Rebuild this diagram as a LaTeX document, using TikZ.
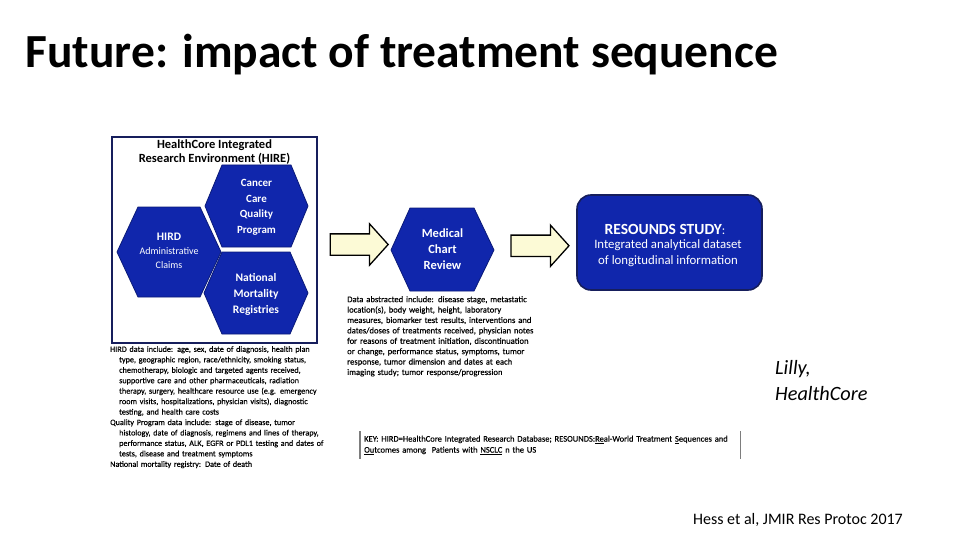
\documentclass[tikz,border=0pt]{standalone}
\usepackage{fontspec}
\setmainfont{Carlito}
\newfontfamily\notefont{Carlito}[FakeBold=0.4]
\usepackage{xcolor}
\usetikzlibrary{shapes.arrows,calc}

\definecolor{hexblue}{RGB}{16,38,172}
\definecolor{hexedge}{RGB}{10,26,120}
\definecolor{navy}{RGB}{22,30,92}
\definecolor{cream}{RGB}{252,250,214}
\definecolor{keygray}{RGB}{125,125,125}

\begin{document}
\begin{tikzpicture}[x=1pt, y=-1pt,
    hexfill/.style={fill=hexblue, draw=hexedge, line width=0.8pt},
    hextext/.style={text=white, align=center, inner sep=0pt, font=\fontsize{11}{15.5}\selectfont\bfseries},
    blockarrow/.style={single arrow, draw=black, line width=1.3pt, fill=cream, inner sep=0pt,
        inner ysep=10pt, single arrow head extend=10pt, single arrow tip angle=96, minimum height=58pt},
    smallnote/.style={anchor=north west, inner sep=0pt, text=black, font=\notefont\fontsize{8.15}{10.45}\selectfont},
    keyline/.style={draw=keygray, line width=1.4pt}]
    \useasboundingbox (0,0) rectangle (960,540);
    % title
    \node [anchor=base west, font=\fontsize{47.5}{54}\selectfont\bfseries] (title) at (22,68) {Future: impact of treatment sequence};
    % HIRE box with its three hexagons
    \node [draw=navy, line width=1.8pt, fill=white, minimum width=205pt, minimum height=206pt] (hire) at (214.5,240) {};
    \node [font=\fontsize{12.5}{13.5}\selectfont\bfseries, align=center] (hiretitle) at (214.5,152) {HealthCore Integrated\\Research Environment (HIRE)};
    \fill [hexfill] (117,252) -- (138,207) -- (200,207) -- (221,252) -- (200,297) -- (138,297) -- cycle;
    \fill [hexfill] (205,206) -- (222,165) -- (291,165) -- (308,206) -- (291,247) -- (222,247) -- cycle;
    \fill [hexfill] (204,293) -- (222,252) -- (290,252) -- (308,293) -- (290,334) -- (222,334) -- cycle;
    \node [hextext, font=\fontsize{10}{14}\selectfont] (hird) at (169,251) {\fontsize{11.5}{14}\selectfont\bfseries HIRD\\Administrative\\Claims};
    \node [hextext] (cancer) at (256.5,207.5) {Cancer\\Care\\Quality\\Program};
    \node [hextext, font=\fontsize{11.5}{16}\selectfont\bfseries] (mortality) at (256,294) {National\\Mortality\\Registries};
    % medical chart review
    \fill [hexfill] (391,250) -- (410,208) -- (474,208) -- (494,250) -- (474,291) -- (410,291) -- cycle;
    \node [hextext, minimum width=103pt, font=\fontsize{12.5}{16}\selectfont\bfseries] (mcr) at (442.5,249) {Medical\\Chart\\Review};
    % resounds study
    \node [draw=navy, line width=1.6pt, fill=hexblue, rounded corners=14pt, minimum width=185pt, minimum height=95pt] (resounds) at (669.5,242.5) {};
    \node [text=white, inner sep=0pt, font=\fontsize{15.5}{18}\selectfont\bfseries] (resoundstitle) at (665,229) {RESOUNDS STUDY\mdseries\fontsize{12.8}{16}\selectfont:};
    \node [text=white, align=center, inner sep=0pt, font=\fontsize{12.8}{16}\selectfont] (resoundstext) at (668,253) {Integrated analytical dataset\\of longitudinal information};
    % arrows
    \node [blockarrow] (arrowa) at ($(hire.east)!0.5!(mcr.west)$) {};
    \node [blockarrow] (arrowb) at ($(mcr.east)!0.5!(resounds.west)$) {};
    % notes
    \node [smallnote, text width=240pt] (hirdnote) at (110,346) {\raggedright
        \hangindent=9pt\hangafter=1 HIRD data include: age, sex, date of diagnosis, health plan\newline
        type, geographic region, race/ethnicity, smoking status,\newline
        chemotherapy, biologic and targeted agents received,\newline
        supportive care and other pharmaceuticals, radiation\newline
        therapy, surgery, healthcare resource use (e.g. emergency\newline
        room visits, hospitalizations, physician visits), diagnostic\newline
        testing, and health care costs\par
        \hangindent=9pt\hangafter=1 Quality Program data include: stage of disease, tumor\newline
        histology, date of diagnosis, regimens and lines of therapy,\newline
        performance status, ALK, EGFR or PDL1 testing and dates of\newline
        tests, disease and treatment symptoms\par
        National mortality registry: Date of death\par};
    \node [smallnote, text width=230pt, font=\notefont\fontsize{8.6}{10.4}\selectfont] (mcrnote) at (347,296) {\raggedright
        Data abstracted include: disease stage, metastatic\newline
        location(s), body weight, height, laboratory\newline
        measures, biomarker test results, interventions and\newline
        dates/doses of treatments received, physician notes\newline
        for reasons of treatment initiation, discontinuation\newline
        or change, performance status, symptoms, tumor\newline
        response, tumor dimension and dates at each\newline
        imaging study; tumor response/progression\par};
    % key
    \node [anchor=north west, inner xsep=4pt, inner ysep=3.5pt, text width=372pt, minimum height=28pt, font=\notefont\fontsize{8.5}{11}\selectfont] (key) at (360,431) {\raggedright
        KEY: HIRD=HealthCore Integrated Research Database; RESOUNDS:\underline{Re}al-World Treatment \underline{S}equences and\newline
        \underline{Ou}tcomes among\ \ Patients with \underline{NSCLC} n the US\par};
    \draw [keyline] (key.north west) -- (key.south west);
    \draw [keyline] (key.north east) -- (key.south east);
    % credits
    \node [anchor=west, align=left, inner sep=0pt, font=\fontsize{20.3}{26}\selectfont\itshape] (credit) at (775,381) {Lilly,\\HealthCore};
    \node [anchor=east, inner sep=0pt, font=\fontsize{16}{18}\selectfont] (source) at (903,520) {Hess et al, JMIR Res Protoc 2017};
\end{tikzpicture}
\end{document}
